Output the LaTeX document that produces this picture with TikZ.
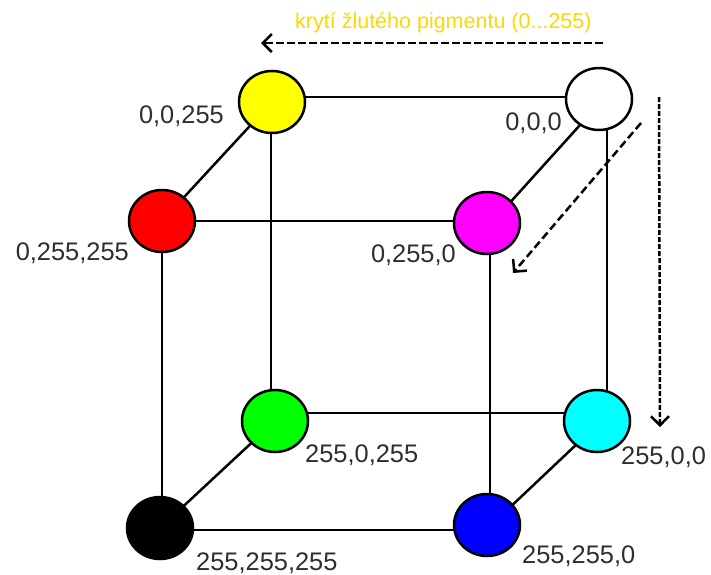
\documentclass[tikz,border=0pt]{standalone}
\usepackage{fontspec}
\setmainfont{Liberation Sans}
\usetikzlibrary{arrows.meta,shapes.geometric,backgrounds}
\definecolor{labelgray}{HTML}{2E2E2E}
\definecolor{titlegold}{HTML}{FFD700}
\definecolor{cornerYellow}{RGB}{255,255,0}
\definecolor{cornerRed}{RGB}{255,0,0}
\definecolor{cornerMagenta}{RGB}{255,0,255}
\definecolor{cornerGreen}{RGB}{0,255,0}
\definecolor{cornerCyan}{RGB}{0,255,255}
\definecolor{cornerBlue}{RGB}{0,0,255}

\begin{document}
\begin{tikzpicture}[x=1pt,y=-1pt,
  vertex/.style={ellipse, draw=black, line width=2.5pt, minimum width=66pt,
                 minimum height=62pt, inner sep=0pt},
  edge/.style={line width=2.5pt},
  coordlabel/.style={font=\fontsize{25.4}{30}\selectfont, text=labelgray, inner sep=0pt},
  axisarrow/.style={line width=2.5pt,
                    -{Straight Barb[length=9pt,width=18pt,line width=2.5pt]}}
]
\useasboundingbox (0,0) rectangle (711,574);

% cube corners
\node[vertex, fill=cornerYellow]  (yellow)  at (272,102) {};
\node[vertex, fill=white]         (white)   at (599,99)  {};
\node[vertex, fill=cornerRed]     (red)     at (162,221) {};
\node[vertex, fill=cornerMagenta] (magenta) at (487,223) {};
\node[vertex, fill=cornerGreen]   (green)   at (275,421) {};
\node[vertex, fill=cornerCyan]    (cyan)    at (597,421) {};
\node[vertex, fill=black]         (black)   at (160,528) {};
\node[vertex, fill=cornerBlue]    (blue)    at (487,525) {};

% cube edges, behind the corners
\begin{scope}[on background layer]
  \draw[edge] ([yshift=5pt]yellow.center) -- ([yshift=2pt]white.center);
  \draw[edge] (yellow.center) -- (red.center);
  \draw[edge] ([xshift=-1pt]yellow.center) -- ([xshift=-4pt]green.center);
  \draw[edge] ([yshift=-5pt]white.center) -- ([yshift=-5pt]magenta.center);
  \draw[edge] ([xshift=8pt]white.center) -- ([xshift=10pt]cyan.center);
  \draw[edge] (red.center) -- ([yshift=2pt]magenta.center);
  \draw[edge] (red.center) -- ([xshift=2pt]black.center);
  \draw[edge] ([xshift=3pt]magenta.center) -- ([xshift=3pt]blue.center);
  \draw[edge] ([yshift=8pt]green.center) -- ([yshift=8pt]cyan.center);
  \draw[edge] (green.center) -- (black.center);
  \draw[edge] ([yshift=-4pt]cyan.center) -- ([yshift=-4pt]blue.center);
  \draw[edge] ([yshift=-2pt]black.center) -- ([yshift=-5pt]blue.center);
\end{scope}

% corner values
\node[coordlabel, anchor=base east] (lyellow)  at (224,123) {0,0,255};
\node[coordlabel, anchor=base east] (lred)     at (129,260) {0,255,255};
\node[coordlabel, anchor=base east] (lwhite)   at (562,130) {0,0,0};
\node[coordlabel, anchor=base east] (lmagenta) at (456,262) {0,255,0};
\node[coordlabel, anchor=base west] (lgreen)   at (305,462) {255,0,255};
\node[coordlabel, anchor=base west] (lcyan)    at (621,464) {255,0,0};
\node[coordlabel, anchor=base west] (lblack)   at (196,570) {255,255,255};
\node[coordlabel, anchor=base west] (lblue)    at (522,563) {255,255,0};

% axis arrows
\node[anchor=base west, inner sep=0pt, text=titlegold,
      font=\fontsize{21.5}{26}\selectfont] (title) at (295,28)
      {krytí žlutého pigmentu (0...255)};

\coordinate (hstart) at (603,43);
\coordinate (hend)   at (261,43);
\coordinate (dstart) at (641,123);
\coordinate (dend)   at (513,273);
\coordinate (vstart) at (659,97);
\coordinate (vend)   at (660,427);

\draw[axisarrow, dash pattern=on 8pt off 3pt] (hstart) -- (hend);
\draw[axisarrow, dash pattern=on 8pt off 4pt] (dstart) -- (dend);
\draw[axisarrow, dash pattern=on 5pt off 2pt] (vstart) -- (vend);
\end{tikzpicture}
\end{document}
